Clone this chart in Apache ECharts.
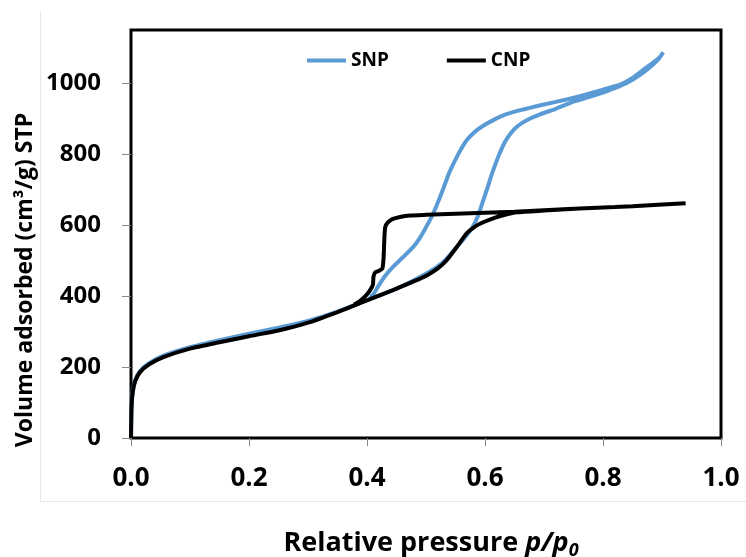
<!DOCTYPE html>
<html>
<head>
<meta charset="utf-8">
<script src="https://cdn.jsdelivr.net/npm/echarts@6/dist/echarts.min.js"></script>
<style>
html,body{margin:0;padding:0;background:#fff;}
#chart{width:746px;height:557px;}
</style>
</head>
<body>
<div id="chart"></div>
<script>
// ---- Data (relative pressure p/p0, volume adsorbed cm3/g STP) ----
var seriesNames = ['SNP', 'CNP'];
var xTicks = [0, 0.2, 0.4, 0.6, 0.8, 1.0];
var yTicks = [0, 200, 400, 600, 800, 1000];

var snpAdsorption = [
  [0,0],[0.001,95],[0.003,135],[0.007,162],[0.015,188],[0.03,210],[0.055,232],[0.1,256],
  [0.15,276],[0.2,294],[0.25,311],[0.3,330],[0.35,356],[0.388,381],[0.417,399],[0.456,425],
  [0.502,465],[0.525,490],[0.54,515],[0.552,538],[0.566,565],[0.578,592],[0.588,625],
  [0.596,665],[0.603,699],[0.612,746],[0.623,795],[0.634,835],[0.644,860],[0.656,880],
  [0.67,895],[0.69,910],[0.72,928],[0.75,948],[0.78,963],[0.807,978],[0.83,993],
  [0.85,1010],[0.868,1030],[0.883,1050],[0.895,1070],[0.902,1087]
];
var snpDesorption = [
  [0.902,1087],[0.897,1075],[0.885,1058],[0.87,1040],[0.85,1015],[0.83,997],[0.8,982],
  [0.77,968],[0.74,955],[0.70,940],[0.66,924],[0.635,912],[0.614,896],[0.597,880],
  [0.582,862],[0.569,839],[0.558,810],[0.548,778],[0.539,746],[0.532,715],[0.524,680],
  [0.512,632],[0.502,600],[0.49,565],[0.478,538],[0.46,508],[0.444,482],[0.43,455],
  [0.42,430],[0.412,408],[0.405,395]
];
var cnpAdsorption = [
  [0,0],[0.001,90],[0.003,130],[0.007,160],[0.015,185],[0.03,207],[0.055,228],[0.1,252],
  [0.15,270],[0.2,287],[0.25,303],[0.3,325],[0.35,355],[0.388,380],[0.444,417],[0.48,442],
  [0.502,459],[0.52,478],[0.535,501],[0.552,538],[0.569,577],[0.583,596],[0.597,608],
  [0.615,620],[0.631,628],[0.654,636],[0.7,641],[0.76,647],[0.82,651],[0.88,656],[0.94,662]
];
var cnpDesorption = [
  [0.94,662],[0.85,653],[0.75,646],[0.65,638],[0.55,632],[0.5,629],[0.473,627],[0.456,623],
  [0.443,617],[0.435,607],[0.431,595],[0.43,580],[0.429,545],[0.428,505],[0.426,478],
  [0.42,471],[0.414,467],[0.411,455],[0.41,432],[0.405,416],[0.398,401],[0.388,386],[0.378,376]
];

var FONT = '"Open Sans", "Liberation Sans", sans-serif';

var chart = echarts.init(document.getElementById('chart'), null, {renderer: 'canvas'});

var option = {
  backgroundColor: '#ffffff',
  animation: false,
  grid: {
    left: 131, right: 25, top: 30, bottom: 119,
    show: true, borderColor: '#000', borderWidth: 3, backgroundColor: 'transparent'
  },
  legend: {
    data: seriesNames,
    left: 302, top: 46,
    icon: 'rect',
    itemWidth: 39, itemHeight: 4, itemGap: 58,
    textStyle: {fontFamily: FONT, fontWeight: 'bold', fontSize: 19, color: '#000'}
  },
  xAxis: {
    type: 'value', min: 0, max: 1, interval: 0.2,
    axisLine: {show: true, lineStyle: {color: '#000', width: 2}},
    axisTick: {show: true, inside: false, length: 8, lineStyle: {color: '#888', width: 1}},
    splitLine: {show: false},
    axisLabel: {
      margin: 28,
      fontFamily: FONT, fontWeight: 'bold', fontSize: 26, color: '#000',
      formatter: function (v) { return Number(v).toFixed(1); }
    }
  },
  yAxis: {
    type: 'value', min: 0, max: 1150, interval: 200,
    axisLine: {show: true, lineStyle: {color: '#000', width: 2}},
    axisTick: {show: true, inside: false, length: 9, lineStyle: {color: '#888', width: 1}, customValues: yTicks},
    splitLine: {show: false},
    axisLabel: {
      margin: 30, customValues: yTicks,
      fontFamily: FONT, fontWeight: 'bold', fontSize: 24, color: '#000',
      formatter: function (v) { return String(Math.round(Number(v))); }
    }
  },
  graphic: [
    {
      type: 'polyline', silent: true, z: -10,
      shape: {points: [[40.5, 12], [40.5, 501.5], [746, 501.5]]},
      style: {stroke: '#e6e6e6', lineWidth: 1, fill: null}
    },
    {
      type: 'text', x: 25, y: 280, rotation: Math.PI / 2,
      style: {
        text: 'Volume adsorbed (cm³/g) STP',
        fontFamily: FONT, fontWeight: 'bold', fontSize: 23, fill: '#000',
        textAlign: 'center', textVerticalAlign: 'middle'
      }
    },
    {
      type: 'text', x: 431, y: 543,
      style: {
        text: '{a|Relative pressure }{i|p/p}{s|0}',
        textAlign: 'center', textVerticalAlign: 'middle',
        rich: {
          a: {fontFamily: FONT, fontWeight: 'bold', fontSize: 27, fill: '#000', lineHeight: 34},
          i: {fontFamily: FONT, fontWeight: 'bold', fontStyle: 'italic', fontSize: 27, fill: '#000', lineHeight: 34},
          s: {fontFamily: FONT, fontWeight: 'bold', fontStyle: 'italic', fontSize: 18, fill: '#000', lineHeight: 34, verticalAlign: 'bottom'}
        }
      }
    }
  ],
  series: [
    {
      name: 'SNP', type: 'line',
      data: snpAdsorption.concat(snpDesorption),
      showSymbol: false, symbol: 'none', smooth: 0.2,
      lineStyle: {color: '#5B9BD5', width: 4},
      itemStyle: {color: '#5B9BD5'},
      z: 2
    },
    {
      name: 'CNP', type: 'line',
      data: cnpAdsorption.concat(cnpDesorption),
      showSymbol: false, symbol: 'none', smooth: 0.2,
      lineStyle: {color: '#000', width: 4},
      itemStyle: {color: '#000'},
      z: 3
    }
  ]
};
chart.setOption(option);
</script>
</body>
</html>
